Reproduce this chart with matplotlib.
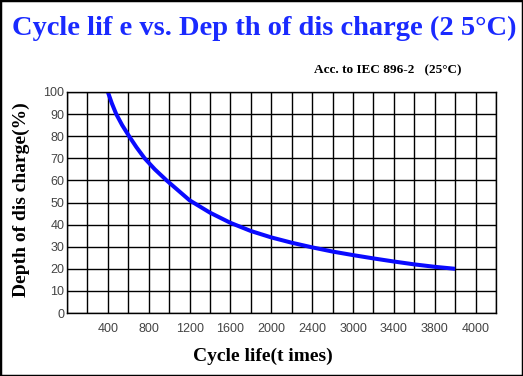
import matplotlib
matplotlib.use("Agg")
import matplotlib.pyplot as plt
from matplotlib.patches import Rectangle

# Data (x in plotted cycle units, each grid column = 200)
cycles = [400, 438, 482, 540, 608, 680, 760, 860, 975, 1200, 1400, 1600,
          1800, 2000, 2200, 2400, 2600, 2800, 3000, 3200, 3400, 3600, 3800]
dod = [100, 95, 90, 85, 80, 75, 70, 65, 60, 51, 45.4, 40.8,
       37.1, 34.2, 31.8, 29.7, 27.8, 26.2, 24.7, 23.3, 22.0, 20.9, 20.0]
xtick_pos = [400, 800, 1200, 1600, 2000, 2400, 2800, 3200, 3600, 4000]
xtick_labels = ['400', '800', '1200', '1600', '2000', '2400', '3000', '3400', '3800', '4000']
yticks = list(range(0, 101, 10))

W, H = 523, 376
fig = plt.figure(figsize=(W / 100, H / 100), dpi=100)
fig.patch.set_facecolor('white')

ax = fig.add_axes([67 / W, 1 - 313 / H, (496 - 67) / W, (313 - 92) / H])
ax.set_xlim(0, 4200)
ax.set_ylim(0, 100)
ax.set_yticks(yticks)
ax.grid(True, color='black', linewidth=1.0)
ax.set_axisbelow(True)
for s in ax.spines.values():
    s.set_color('black')
    s.set_linewidth(1.0)

grid_x = list(range(0, 4201, 200))
ax.set_xticks(grid_x)
ax.set_xticklabels(['' if p not in xtick_pos else xtick_labels[xtick_pos.index(p)]
                    for p in grid_x])
ax.set_yticklabels([str(v) for v in yticks])
tick_font = ['Liberation Sans', 'DejaVu Sans']
for lab in ax.get_xticklabels() + ax.get_yticklabels():
    lab.set_family(tick_font)
    lab.set_fontsize(9)
    lab.set_color('#444444')
ax.tick_params(axis='x', length=0, pad=7)
ax.tick_params(axis='y', length=0, pad=2)

ax.plot(cycles, dod, color='#0a0aff', linewidth=2.9, solid_capstyle='butt',
        solid_joinstyle='round')

serif = ['Liberation Serif', 'DejaVu Serif']
fig.text(264 / W, 1 - 28 / H, 'Cycle lif e vs. Dep th of dis charge (2 5°C)',
         ha='center', va='center', color='#1a2aff', fontsize=20.5,
         fontweight='bold', family=serif)
fig.text(388 / W, 1 - 70 / H, 'Acc. to IEC 896-2   (25°C)',
         ha='center', va='center', color='black', fontsize=9.5,
         fontweight='bold', family=serif)
fig.text(21 / W, 1 - 200 / H, 'Depth of dis charge(%)', rotation=90,
         ha='center', va='center', color='black', fontsize=14,
         fontweight='bold', family=serif)
fig.text(263 / W, 1 - 356 / H, 'Cycle life(t imes)',
         ha='center', va='center', color='black', fontsize=14,
         fontweight='bold', family=serif)

fig.patches.append(Rectangle((0, 0), 1, 1, transform=fig.transFigure,
                             fill=False, edgecolor='black', linewidth=2.5))

fig.savefig('out.png', dpi=100)
